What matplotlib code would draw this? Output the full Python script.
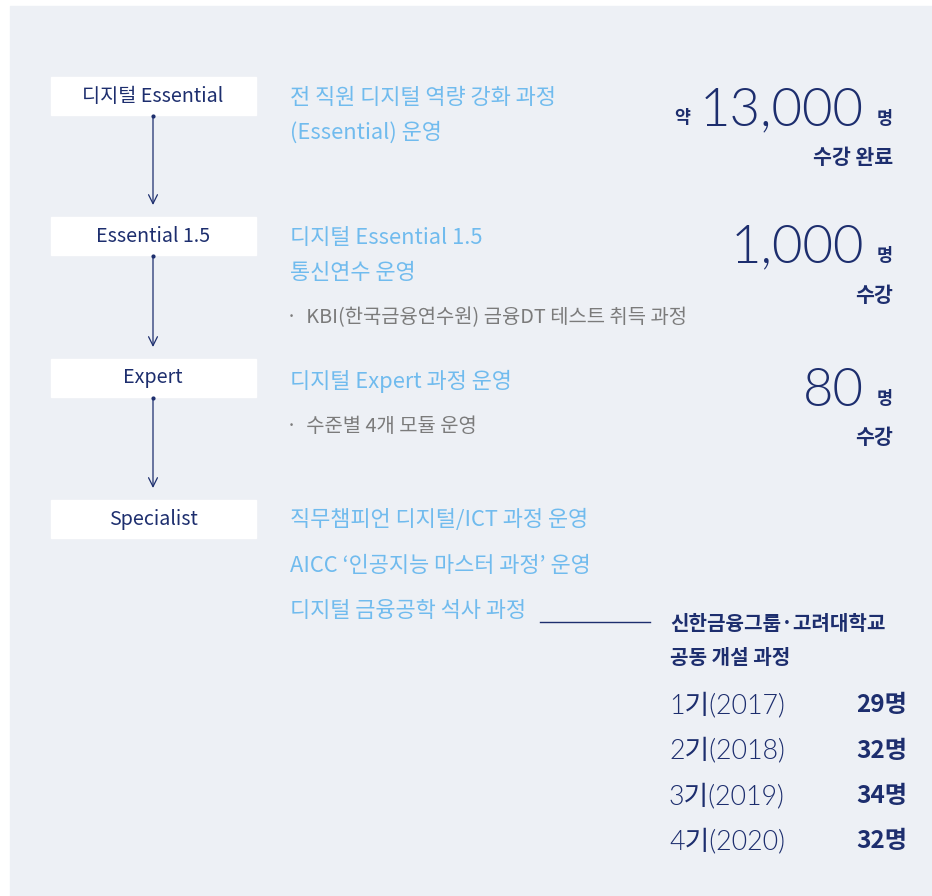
import matplotlib
matplotlib.use("Agg")
import matplotlib.pyplot as plt
from matplotlib.patches import Rectangle

plt.rcParams['font.family'] = ['Noto Sans CJK KR', 'DejaVu Sans']
LIGHT = ['Lato', 'Noto Sans CJK KR']

# content
stages = ["디지털 Essential", "Essential 1.5", "Expert", "Specialist"]
stage_desc = [
    ["전 직원 디지털 역량 강화 과정", "(Essential) 운영"],
    ["디지털 Essential 1.5", "통신연수 운영"],
    ["디지털 Expert 과정 운영"],
    ["직무챔피언 디지털/ICT 과정 운영", "AICC ‘인공지능 마스터 과정’ 운영", "디지털 금융공학 석사 과정"],
]
stage_notes = ["", "·  KBI(한국금융연수원) 금융DT 테스트 취득 과정", "·  수준별 4개 모듈 운영", ""]
counts = ["13,000", "1,000", "80"]
count_prefix = ["약", "", ""]
count_caption = ["수강 완료", "수강", "수강"]
partner = ["신한금융그룹·고려대학교", "공동 개설 과정"]
cohorts = ["1기(2017)", "2기(2018)", "3기(2019)", "4기(2020)"]
cohort_counts = [29, 32, 34, 32]

NAVY = "#1d2e6e"
BLUE = "#70bbee"
GRAY = "#7b7b7b"
BG = "#edf0f5"

fig = plt.figure(figsize=(9.32, 8.96), dpi=100)
fig.patch.set_facecolor("white")
ax = fig.add_axes([0, 0, 1, 1])
ax.set_xlim(0, 932)
ax.set_ylim(896, 0)
ax.axis("off")

ax.add_patch(Rectangle((10, 6), 922, 890, color=BG, zorder=0))

# stage boxes + arrows
box_y = [96, 236, 378, 519]
for i, name in enumerate(stages):
    y = box_y[i]
    ax.add_patch(Rectangle((51, y - 19), 205, 38, color="white", zorder=1))
    ax.text(153, y, name, ha="center", va="center", fontsize=14.2, color=NAVY,
            zorder=2)
    if i < len(stages) - 1:
        y0, y1 = y + 20, box_y[i + 1] - 31
        ax.plot([153], [y0], "o", ms=2, color=NAVY, zorder=2)
        ax.annotate("", xy=(153, y1), xytext=(153, y0),
                    arrowprops=dict(arrowstyle="->", color=NAVY, lw=0.9,
                                    mutation_scale=16, shrinkA=0, shrinkB=0))

# descriptions
desc_y = [[98, 133], [238, 273], [381], [520, 566, 611]]
for lines, ys in zip(stage_desc, desc_y):
    for t, y in zip(lines, ys):
        ax.text(290, y, t, ha="left", va="center", fontsize=15.8, color=BLUE)

note_y = [0, 318, 426, 0]
for t, y in zip(stage_notes, note_y):
    if t:
        ax.text(286, y, t, ha="left", va="center", fontsize=14.3, color=GRAY)

# big counts
num_y = [111, 248, 391]
for i, c in enumerate(counts):
    y = num_y[i]
    ax.text(864, y, c, ha="right", va="center", fontsize=38, color=NAVY,
            family=LIGHT, fontweight=300)
    ax.text(885, y + 8, "명", ha="center", va="center", fontsize=12.5,
            color=NAVY, fontweight="bold")
    if count_prefix[i]:
        ax.text(682, y + 7, count_prefix[i], ha="center", va="center",
                fontsize=12.5, color=NAVY, fontweight="bold")
    ax.text(893, y + 47, count_caption[i], ha="right", va="center",
            fontsize=14.8, color=NAVY, fontweight="bold")

# connector to partner program
ax.plot([540, 650], [622, 622], color=NAVY, lw=1)
for t, y in zip(partner, [623, 658]):
    ax.text(670, y, t, ha="left", va="center", fontsize=14.5, color=NAVY,
            fontweight="bold")

for i, (name, n) in enumerate(zip(cohorts, cohort_counts)):
    y = 705 + i * 45.5
    ax.text(669, y, name, ha="left", va="center", fontsize=19.3, color=NAVY,
            family=LIGHT, fontweight=300)
    ax.text(907, y, f"{n}명", ha="right", va="center", fontsize=17.5,
            color=NAVY, fontweight="bold")

fig.savefig("out.png", dpi=100, facecolor=fig.get_facecolor())
